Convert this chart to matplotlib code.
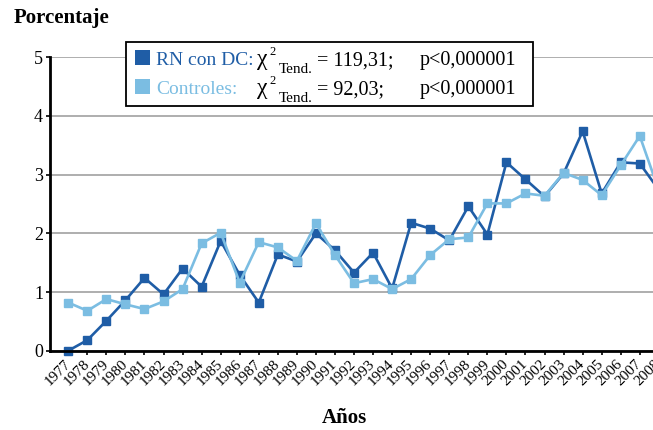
import matplotlib
matplotlib.use('Agg')
import matplotlib.pyplot as plt
from matplotlib.patches import Rectangle

plt.rcParams['font.family'] = 'Liberation Serif'

# data
years = list(range(1977, 2009))
rn_dc = [0.00, 0.18, 0.51, 0.86, 1.24, 0.96, 1.40, 1.09, 1.87, 1.29,
         0.82, 1.64, 1.52, 2.00, 1.71, 1.33, 1.67, 1.06, 2.18, 2.08,
         1.88, 2.46, 1.98, 3.21, 2.92, 2.63, 3.02, 3.74, 2.68, 3.21,
         3.19, 2.74]
controles = [0.82, 0.68, 0.88, 0.79, 0.71, 0.84, 1.05, 1.83, 2.01, 1.16,
             1.85, 1.76, 1.53, 2.17, 1.63, 1.15, 1.22, 1.05, 1.22, 1.63,
             1.90, 1.93, 2.51, 2.51, 2.68, 2.64, 3.03, 2.91, 2.65, 3.16,
             3.66, 2.73]
y_ticks = [0, 1, 2, 3, 4, 5]

DARK = '#1F5DA6'
LIGHT = '#7BBDE2'

W, H = 653, 430


def fx(px):
    return px / W


def fy(py):
    # pixel measured from top -> figure fraction
    return 1 - py / H


fig = plt.figure(figsize=(W / 100, H / 100), dpi=100)
ax = fig.add_axes([fx(50), fy(350.7), 650 / W, 293.4 / H])

x = list(range(len(years)))
ax.plot(x, rn_dc, color=DARK, lw=1.9, marker='s', ms=5.5, zorder=3, clip_on=False)
ax.plot(x, controles, color=LIGHT, lw=1.9, marker='s', ms=5.5, zorder=4, clip_on=False)

ax.set_xlim(-0.96, -0.96 + 650 / 19.05)
ax.set_ylim(0, 5)
ax.set_yticks(y_ticks)
ax.set_xticks(x)
ax.set_xticklabels([str(y) for y in years], rotation=45, ha='right', va='center',
                   rotation_mode='anchor', fontsize=11)
ax.tick_params(axis='x', length=3, width=1.2, pad=5)
ax.tick_params(axis='y', length=3, width=1.2, labelsize=13, pad=2)
ax.yaxis.grid(True, color='#a8a8a8', lw=1.3)
ax.set_axisbelow(True)
for s in ['top', 'right']:
    ax.spines[s].set_visible(False)
for s in ['left', 'bottom']:
    ax.spines[s].set_linewidth(2)
    ax.spines[s].set_zorder(5)

fig.text(fx(14), fy(18), 'Porcentaje', fontsize=15, fontweight='bold', va='center', ha='left')
fig.text(fx(344), fy(418), 'Años', fontsize=15, fontweight='bold', va='center', ha='center')

# legend box drawn by hand (mixed text colours)
fig.patches.append(Rectangle((fx(126), fy(106)), 407 / W, 64 / H, transform=fig.transFigure,
                             facecolor='white', edgecolor='black', lw=1.3, zorder=10))
rows = [
    (65, DARK, 'RN con DC:', '= 119,31;'),
    (94, LIGHT, 'Controles:', '= 92,03;'),
]
for base, col, name, chi in rows:
    fig.patches.append(Rectangle((fx(135), fy(base)), 15 / W, 15 / H, transform=fig.transFigure,
                                 facecolor=col, edgecolor='none', zorder=11))
    fig.text(fx(156), fy(base), name, color=col, fontsize=14, va='baseline', zorder=12)
    fig.text(fx(257), fy(base), 'χ', fontsize=17, va='baseline', zorder=12)
    fig.text(fx(269), fy(base - 10), '2', fontsize=9, va='baseline', zorder=12)
    fig.text(fx(279), fy(base + 8), 'Tend.', fontsize=11, va='baseline', zorder=12)
    fig.text(fx(317), fy(base), chi, fontsize=14.5, va='baseline', zorder=12)
    fig.text(fx(420), fy(base), 'p<0,000001', fontsize=14.5, va='baseline', zorder=12)

fig.savefig('out.png', dpi=100)
